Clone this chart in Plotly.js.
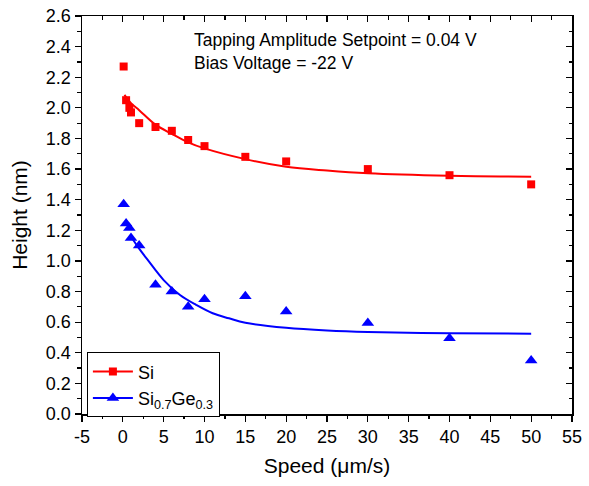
<!DOCTYPE html>
<html>
<head>
<meta charset="utf-8">
<script src="https://cdn.plot.ly/plotly-3.0.1.min.js"></script>
<style>html,body{margin:0;padding:0;background:#fff;}#chart{width:589px;height:486px;}</style>
</head>
<body>
<div id="chart"></div>
<script>
// Measured data
const speeds = [0.1, 0.4, 0.8, 1, 2, 4, 6, 8, 10, 15, 20, 30, 40, 50];
const siHeight = [2.27, 2.05, 2.00, 1.97, 1.90, 1.875, 1.85, 1.79, 1.75, 1.68, 1.65, 1.60, 1.56, 1.50];
const siGeHeight = [1.37, 1.245, 1.215, 1.15, 1.10, 0.845, 0.80, 0.70, 0.75, 0.77, 0.67, 0.595, 0.495, 0.35];

// Fit curves
const siFitX = [0.2, 1, 2, 4, 6, 8, 10, 15, 20, 25, 30, 40, 50];
const siFitY = [2.085, 2.03, 1.985, 1.89, 1.83, 1.775, 1.735, 1.665, 1.615, 1.59, 1.572, 1.556, 1.55];
const siGeFitX = [1, 2, 3, 5, 7, 9, 11, 13, 15, 20, 25, 30, 40, 50];
const siGeFitY = [1.16, 1.08, 1.01, 0.875, 0.777, 0.712, 0.658, 0.625, 0.596, 0.563, 0.545, 0.535, 0.527, 0.525];

const xTicks = [-5, 0, 5, 10, 15, 20, 25, 30, 35, 40, 45, 50, 55];
const yTicks = [0.0, 0.2, 0.4, 0.6, 0.8, 1.0, 1.2, 1.4, 1.6, 1.8, 2.0, 2.2, 2.4, 2.6];

const RED = '#ff0000', BLUE = '#0000ff';
const FONT = 'Liberation Sans, Arial, sans-serif';

const traces = [
  {x: siFitX, y: siFitY, mode: 'lines', line: {color: RED, width: 2, shape: 'spline'}, showlegend: false, hoverinfo: 'skip'},
  {x: siGeFitX, y: siGeFitY, mode: 'lines', line: {color: BLUE, width: 2, shape: 'spline'}, showlegend: false, hoverinfo: 'skip'},
  {x: speeds, y: siHeight, mode: 'markers', marker: {symbol: 'square', size: 8, color: RED}, showlegend: false},
  {x: speeds, y: siGeHeight, mode: 'markers', marker: {symbol: 'triangle-up', size: 11, color: BLUE}, showlegend: false},
  {x: [null], y: [null], mode: 'lines+markers', name: 'Si', line: {color: RED, width: 2}, marker: {symbol: 'square', size: 8, color: RED}},
  {x: [null], y: [null], mode: 'lines+markers', name: 'Si<sub>0.7</sub>Ge<sub>0.3</sub>', line: {color: BLUE, width: 2}, marker: {symbol: 'triangle-up', size: 11, color: BLUE}}
];

const axisCommon = {
  showgrid: false, zeroline: false, showline: true, linecolor: '#000', linewidth: 1.5,
  ticks: 'outside', tickcolor: '#000', ticklen: 6, tickwidth: 1.2,
  tickfont: {family: FONT, size: 18, color: '#000'}
};

const layout = {
  width: 589, height: 486,
  margin: {l: 82, r: 17, t: 16, b: 72},
  paper_bgcolor: '#fff', plot_bgcolor: '#fff',
  font: {family: FONT, color: '#000'},
  xaxis: Object.assign({}, axisCommon, {
    range: [-5, 55], tickvals: xTicks, ticktext: xTicks.map(String),
    minor: {dtick: 2.5, tick0: -5, ticks: 'outside', ticklen: 3.5, tickcolor: '#000', tickwidth: 1.2},
    title: {text: 'Speed (μm/s)', font: {family: FONT, size: 21, color: '#000'}, standoff: 12}
  }),
  yaxis: Object.assign({}, axisCommon, {
    range: [0, 2.6], tickvals: yTicks, ticktext: yTicks.map(v => v.toFixed(1)),
    minor: {dtick: 0.1, tick0: 0, ticks: 'outside', ticklen: 3.5, tickcolor: '#000', tickwidth: 1.2},
    title: {text: 'Height (nm)', font: {family: FONT, size: 21, color: '#000'}, standoff: 12}
  }),
  xaxis2: {
    overlaying: 'x', side: 'top', matches: 'x', range: [-5, 55], showgrid: false, zeroline: false,
    showline: true, linecolor: '#000', linewidth: 1.5, ticks: 'inside', ticklen: 6, tickwidth: 1.2, tickcolor: '#000',
    tickvals: xTicks, showticklabels: false,
    minor: {dtick: 2.5, tick0: -5, ticks: 'inside', ticklen: 3.5, tickcolor: '#000', tickwidth: 1.2}
  },
  yaxis2: {
    overlaying: 'y', side: 'right', range: [0, 2.6], showgrid: false, zeroline: false,
    showline: true, linecolor: '#000', linewidth: 1.5, ticks: 'inside', ticklen: 6, tickwidth: 1.2, tickcolor: '#000',
    tickvals: yTicks, showticklabels: false,
    minor: {dtick: 0.1, tick0: 0, ticks: 'inside', ticklen: 3.5, tickcolor: '#000', tickwidth: 1.2}
  },
  legend: {
    x: 0.01, y: 0.155, xanchor: 'left', yanchor: 'top',
    bgcolor: '#fff', bordercolor: '#000', borderwidth: 1,
    font: {family: FONT, size: 18, color: '#000'},
    itemwidth: 40, tracegroupgap: 0
  },
  annotations: [
    {xref: 'paper', yref: 'paper', x: 0.224, y: 0.9705, xanchor: 'left', yanchor: 'top', align: 'left', showarrow: false,
     text: 'Tapping Amplitude Setpoint = 0.04 V<br>Bias Voltage = -22 V',
     font: {family: FONT, size: 17.5, color: '#000'}}
  ]
};

// dummy trace to activate the mirror axes
traces.push({x: [null], y: [null], xaxis: 'x2', yaxis: 'y2', showlegend: false, hoverinfo: 'skip'});

Plotly.newPlot('chart', traces, layout, {displayModeBar: false, staticPlot: true});
</script>
</body>
</html>
